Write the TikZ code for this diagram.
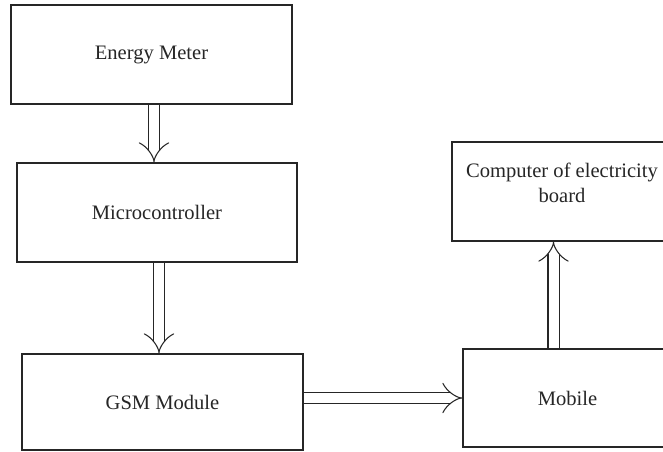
\documentclass[tikz,border=0pt]{standalone}
\usepackage{fontspec}
\setmainfont{Liberation Serif}
\usetikzlibrary{arrows.meta, positioning}

\begin{document}
\begin{tikzpicture}[
      x=0.02cm, y=-0.02cm,
      box/.style={rectangle, draw=black!85, line width=0.9pt, fill=white,
                  minimum height=1.98cm, align=center, text=black!85,
                  font=\fontsize{11.7}{14.2}\selectfont},
      arr/.style={-{Implies}, double, double distance=0.2cm, line width=0.6pt, draw=black!85}
    ]
      \path[use as bounding box, clip] (0,0) rectangle (663,452);
      \node[box, minimum width=5.62cm] (meter) at (151.5,54.5) {Energy Meter};
      \node[box, minimum width=5.6cm] (mcu) at (157,212.5) {Microcontroller};
      \node[box, minimum width=5.62cm, minimum height=1.92cm] (gsm) at (162.5,402) {GSM Module};
      \node[box, minimum width=4.18cm, minimum height=1.96cm] (mob) at (567.5,398) {Mobile};
      \node[box, minimum width=4.4cm] (comp) at (562,191.5) {Computer of electricity\\board\\[-0.14cm]\mbox{}};
      \draw[arr] ([xshift=0.05cm]meter.south) -- ([xshift=0.05cm]meter.south |- mcu.north);
      \draw[arr] ([xshift=0.04cm]mcu.south) -- ([xshift=0.04cm]mcu.south |- gsm.north);
      \draw[arr] (gsm.east |- mob.west) -- (mob.west);
      \draw[arr] ([xshift=-0.28cm]mob.north) -- ([xshift=-0.28cm]mob.north |- comp.south);
    \end{tikzpicture}
\end{document}
